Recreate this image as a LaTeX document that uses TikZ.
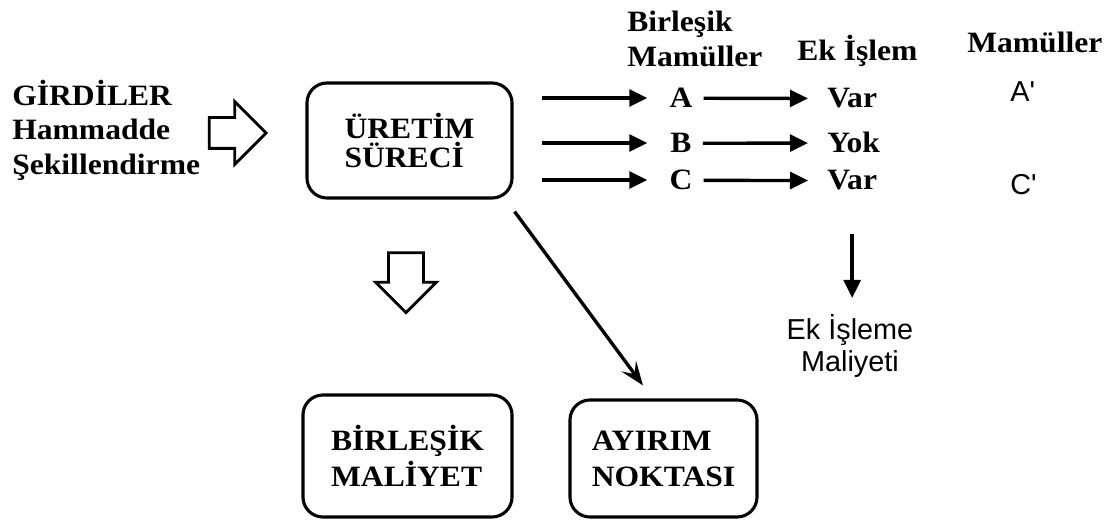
\documentclass[tikz,border=0pt]{standalone}
\usepackage{fontspec}
\setmainfont{Liberation Serif}[FakeStretch=1.07]
\newfontfamily\labelsans{Liberation Sans}
\usetikzlibrary{shapes.arrows, arrows.meta, positioning}
\tikzset{
    % Plain bold text
    every node/.style={font=\fontsize{21}{24}\selectfont\bfseries, inner sep=0pt},
    % Rounded process box
    process/.style={
        rectangle,
        rounded corners=0.5cm,
        draw=black,
        line width=2.2pt,
        align=left
    },
    % Hollow block arrow
    blockarrow/.style={
        single arrow,
        draw=black,
        fill=white,
        line width=2pt,
        single arrow head indent=0pt,
        inner xsep=0pt
    },
    % Arrow style
    arrow/.style={
        -{Triangle[length=0.45cm, width=0.42cm]},
        line width=2.4pt
    },
    % Long arrow to the split-off point
    diagarrow/.style={
        -{Stealth[length=0.6cm, width=0.45cm, inset=0.25cm]},
        line width=2.4pt
    },
    % Sans-serif labels
    sanslabel/.style={
        font=\labelsans\fontsize{20.5}{22.8}\selectfont,
        align=center
    }
}
\begin{document}
\begin{tikzpicture}[x=0.025cm, y=-0.025cm]
    \useasboundingbox (0,0) rectangle (1114,523);

    % Inputs and production process
    \node (girdi) [anchor=west, align=left, font=\fontsize{21}{24.5}\selectfont\bfseries] at (12,130) {GİRDİLER\\Hammadde\\Şekillendirme};
    \node (inarrow) [blockarrow, inner ysep=0.35cm, minimum height=1.425cm, minimum width=1.5cm, single arrow head extend=0.4cm] at (230,133) {};
    \node (uretim) [process, minimum width=5.125cm, minimum height=2.875cm, font=\fontsize{21}{21}\selectfont\bfseries] at (409.5,140.5) {ÜRETİM\\SÜRECİ};

    % Column headers
    \node (hbir) [anchor=west, align=left, font=\fontsize{21}{25.5}\selectfont\bfseries] at (627,39) {Birleşik\\Mamüller};
    \node (hek) [anchor=base west] at (797,61) {Ek İşlem};
    \node (hmam) [anchor=base west] at (967,53) {Mamüller};

    % Joint products
    \node (a) [anchor=base] at (681,108) {A};
    \node (b) [anchor=base] at (681,153) {B};
    \node (c) [anchor=base] at (681,190) {C};
    \node (vara) [anchor=base west] at (827,108) {Var};
    \node (yokb) [anchor=base west] at (827,153) {Yok};
    \node (varc) [anchor=base west] at (827,190) {Var};
    \node (amam) [sanslabel, anchor=base west] at (1010,102) {A'};
    \node (cmam) [sanslabel, anchor=base west] at (1010,195) {C'};

    \coordinate (sa) at (542,98);
    \coordinate (sb) at (542,143);
    \coordinate (sc) at (542,180);
    \draw [arrow, shorten >=0.55cm] (sa) -- (sa -| a.west);
    \draw [arrow, shorten >=0.55cm] (sb) -- (sb -| a.west);
    \draw [arrow, shorten >=0.55cm] (sc) -- (sc -| a.west);
    \draw [arrow, shorten <=0.275cm, shorten >=0.475cm] (a) -- (vara);
    \draw [arrow, shorten <=0.275cm, shorten >=0.475cm] (b) -- (yokb);
    \draw [arrow, shorten <=0.275cm, shorten >=0.475cm] (c) -- (varc);

    % Further processing cost
    \node (ekm) [sanslabel, anchor=north] at (850,314) {Ek İşleme\\Maliyeti};
    \draw [arrow, shorten <=1.075cm, shorten >=0.4cm] (varc.south) -- (varc.south |- ekm.north);

    % Joint cost and split-off point
    \node (outarrow) [blockarrow, rotate=-90, inner ysep=0.4cm, minimum height=1.5cm, minimum width=1.45cm, single arrow head extend=0.325cm] at (406,274) {};
    \node (birmal) [process, minimum width=5.225cm, minimum height=3.05cm, font=\fontsize{21}{25.6}\selectfont\bfseries] at (407.5,456) {BİRLEŞİK\\MALİYET};
    \node (ayirim) [process, minimum width=4.675cm, minimum height=2.925cm, font=\fontsize{21}{25.6}\selectfont\bfseries] at (663.5,458.5) {AYIRIM\\NOKTASI};
    \draw [diagarrow] ([shift={(1,12)}]uretim.south east) -- ([shift={(-20.5,-13)}]ayirim.north);
\end{tikzpicture}
\end{document}
